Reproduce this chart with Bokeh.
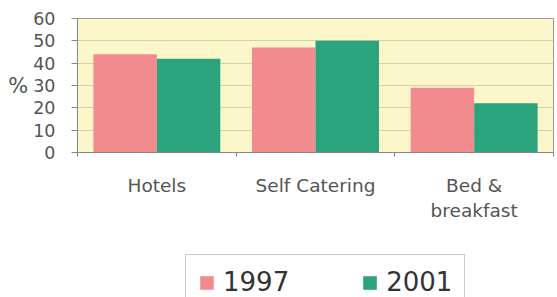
from bokeh.plotting import figure
from bokeh.layouts import column
from bokeh.models import (FactorRange, Range1d, LinearAxis, CategoricalAxis, FixedTicker,
                          Legend, LegendItem, ColumnDataSource)
from bokeh.transform import dodge
from bokeh.embed import file_html
from bokeh.resources import INLINE

categories = ["Hotels", "Self Catering", "Bed &\nbreakfast"]
series_names = ["1997", "2001"]
values_1997 = [44, 47, 29]
values_2001 = [42, 50, 22]
y_ticks = [0, 10, 20, 30, 40, 50, 60]
boundary_ticks = [0, 1, 2, 3]   # category boundaries in the factor range's synthetic units

FONT = "DejaVu Sans"
PINK = "#F28B8D"
GREEN = "#2BA47D"

source = ColumnDataSource(dict(cat=categories, v1997=values_1997, v2001=values_2001))

p = figure(width=557, height=245,
           x_range=FactorRange(factors=categories, range_padding=0),
           y_range=Range1d(0, 60),
           output_backend="svg", toolbar_location=None,
           x_axis_location=None, y_axis_location="left",
           min_border_left=77, min_border_right=4, min_border_top=18,
           min_border_bottom=93)

p.background_fill_color = "#FBF7CB"
p.border_fill_color = "white"
p.outline_line_color = "#9A9A9A"
p.outline_line_width = 1

r1 = p.vbar(x=dodge("cat", -0.2, range=p.x_range), top="v1997", width=0.4,
            source=source, fill_color=PINK, line_color=None)
r2 = p.vbar(x=dodge("cat", 0.2, range=p.x_range), top="v2001", width=0.4,
            source=source, fill_color=GREEN, line_color=None)

# y axis
ya = p.yaxis[0]
ya.ticker = FixedTicker(ticks=y_ticks)
ya.axis_label = "%"
ya.axis_label_orientation = "horizontal"
ya.axis_label_text_font = FONT
ya.axis_label_text_font_style = "normal"
ya.axis_label_text_font_size = "21px"
ya.axis_label_text_color = "#555555"
ya.axis_label_standoff = 2
ya.major_label_text_font = FONT
ya.major_label_text_font_size = "17.5px"
ya.major_label_text_color = "#555555"
ya.major_label_standoff = 16
ya.major_tick_out = 6
ya.major_tick_in = 0
ya.minor_tick_out = 0
ya.minor_tick_in = 0
ya.axis_line_color = "#888888"
ya.major_tick_line_color = "#888888"

p.ygrid.ticker = FixedTicker(ticks=y_ticks)
p.ygrid.grid_line_color = "#D6D1A6"
p.xgrid.grid_line_color = None

# tick-only axis marking category boundaries
tick_axis = LinearAxis(ticker=FixedTicker(ticks=[], minor_ticks=boundary_ticks))
tick_axis.major_tick_out = 0
tick_axis.major_tick_in = 0
tick_axis.minor_tick_out = 4
tick_axis.minor_tick_in = 0
tick_axis.minor_tick_line_color = "#888888"
tick_axis.axis_line_color = "#888888"
tick_axis.major_label_standoff = 0
tick_axis.major_label_text_font_size = "1px"
p.add_layout(tick_axis, "below")

cat_axis = CategoricalAxis()
cat_axis.axis_line_color = None
cat_axis.major_tick_line_color = None
cat_axis.major_tick_out = 0
cat_axis.major_tick_in = 0
cat_axis.major_label_standoff = 18
cat_axis.major_label_text_font = FONT
cat_axis.major_label_text_font_size = "18.5px"
cat_axis.major_label_text_color = "#555555"
p.add_layout(cat_axis, "below")

# legend strip: a second figure whose view holds only the legend
lg = figure(width=557, height=52,
            x_range=p.x_range, y_range=Range1d(1000, 1100),
            output_backend="svg", toolbar_location=None,
            x_axis_location=None, y_axis_location=None,
            min_border=0)
lg.outline_line_color = None
lg.xgrid.grid_line_color = None
lg.ygrid.grid_line_color = None
lg.background_fill_color = "white"
lr1 = lg.vbar(x=dodge("cat", -0.2, range=lg.x_range), top="v1997", width=0.4,
              source=source, fill_color=PINK, line_color=None)
lr2 = lg.vbar(x=dodge("cat", 0.2, range=lg.x_range), top="v2001", width=0.4,
              source=source, fill_color=GREEN, line_color=None)

legend = Legend(items=[LegendItem(label=series_names[0], renderers=[lr1]),
                       LegendItem(label=series_names[1], renderers=[lr2])],
                orientation="horizontal", location=(108, -13))
legend.margin = 0
legend.padding = 12
legend.spacing = 72
legend.glyph_width = 17
legend.glyph_height = 17
legend.label_standoff = 8
legend.label_text_font = FONT
legend.label_text_font_size = "26px"
legend.label_text_color = "#333333"
legend.border_line_color = "#9A9A9A"
legend.background_fill_color = "white"
legend.background_fill_alpha = 1
lg.add_layout(legend, "center")

layout = column(p, lg, spacing=0)
open("out.html", "w").write(file_html(layout, INLINE))
